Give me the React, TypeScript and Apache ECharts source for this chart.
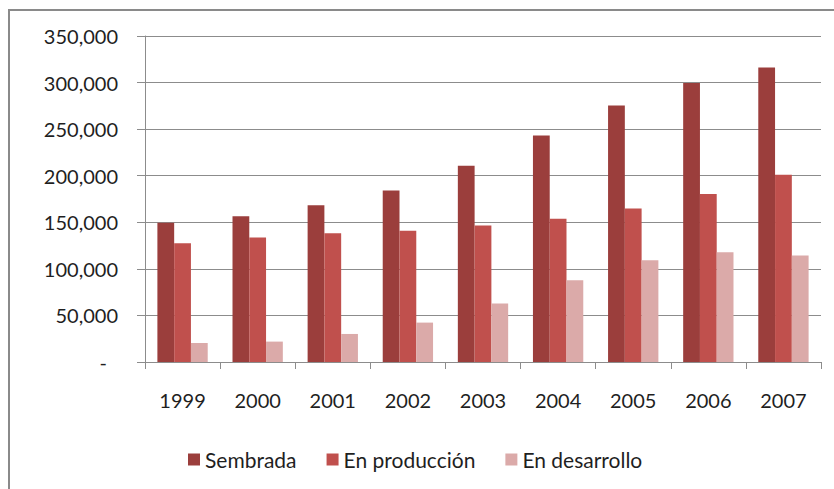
import React, { useEffect, useRef } from "react";
import * as echarts from "echarts";

const years = ["1999", "2000", "2001", "2002", "2003", "2004", "2005", "2006", "2007"];
const sembrada = [149500, 156500, 168400, 184100, 210600, 243200, 275500, 299500, 316300];
const enProduccion = [127500, 133600, 138300, 141000, 146500, 153700, 164800, 180500, 201000];
const enDesarrollo = [20400, 21900, 30100, 42300, 62700, 87800, 109300, 117900, 114300];
const seriesNames = ["Sembrada", "En producción", "En desarrollo"];

const FONT = "Lato";
const TEXT = "#1f1f1f";

export default function App() {
  const ref = useRef<HTMLDivElement>(null);
  useEffect(() => {
    if (!ref.current) return;
    const chart = echarts.init(ref.current, null, { renderer: "svg" });
    chart.setOption({
      animation: false,
      backgroundColor: "#ffffff",
      textStyle: { fontFamily: FONT },
      graphic: [
        {
          type: "rect",
          shape: { x: 9, y: 10, width: 900, height: 600 },
          style: { fill: "none", stroke: "#8a8a8a", lineWidth: 2 },
          silent: true,
        },
      ],
      grid: { left: 145, right: 13, top: 36, bottom: 127, containLabel: false },
      legend: {
        data: seriesNames,
        top: 449,
        left: 188,
        padding: 0,
        itemWidth: 12,
        itemHeight: 12,
        itemGap: 30,
        icon: "rect",
        textStyle: { fontFamily: FONT, fontSize: 21, color: TEXT },
      },
      xAxis: {
        type: "category",
        data: years,
        axisLine: { show: true, lineStyle: { color: "#8c8c8c", width: 1 } },
        axisTick: { show: true, length: 7, alignWithLabel: false, lineStyle: { color: "#8c8c8c" } },
        axisLabel: { fontFamily: FONT, fontSize: 20, color: TEXT, margin: 28 },
      },
      yAxis: {
        type: "value",
        min: 0,
        max: 350000,
        interval: 50000,
        axisLine: { show: true, lineStyle: { color: "#8c8c8c", width: 1 } },
        axisTick: { show: true, length: 8, lineStyle: { color: "#8c8c8c" } },
        splitLine: { show: true, lineStyle: { color: "#8c8c8c", width: 1 } },
        axisLabel: {
          fontFamily: FONT,
          fontSize: 20,
          color: TEXT,
          margin: 27,
          formatter: (v: number) => (v === 0 ? "{d|-}" : v.toLocaleString("en-US")),
          rich: { d: { fontFamily: FONT, fontSize: 20, color: TEXT, padding: [0, 11, 0, 0] } },
        },
      },
      series: [
        { name: seriesNames[0], type: "bar", data: sembrada, itemStyle: { color: "#9b3e3c" }, barGap: "0%", barCategoryGap: "33%" },
        { name: seriesNames[1], type: "bar", data: enProduccion, itemStyle: { color: "#c0504d" }, barGap: "0%", barCategoryGap: "33%" },
        { name: seriesNames[2], type: "bar", data: enDesarrollo, itemStyle: { color: "#dbaaa9" }, barGap: "0%", barCategoryGap: "33%" },
      ],
    });
    return () => chart.dispose();
  }, []);
  return (
    <div
      ref={ref}
      style={{ position: "absolute", left: 0, top: 0, width: 834, height: 489 }}
    />
  );
}
